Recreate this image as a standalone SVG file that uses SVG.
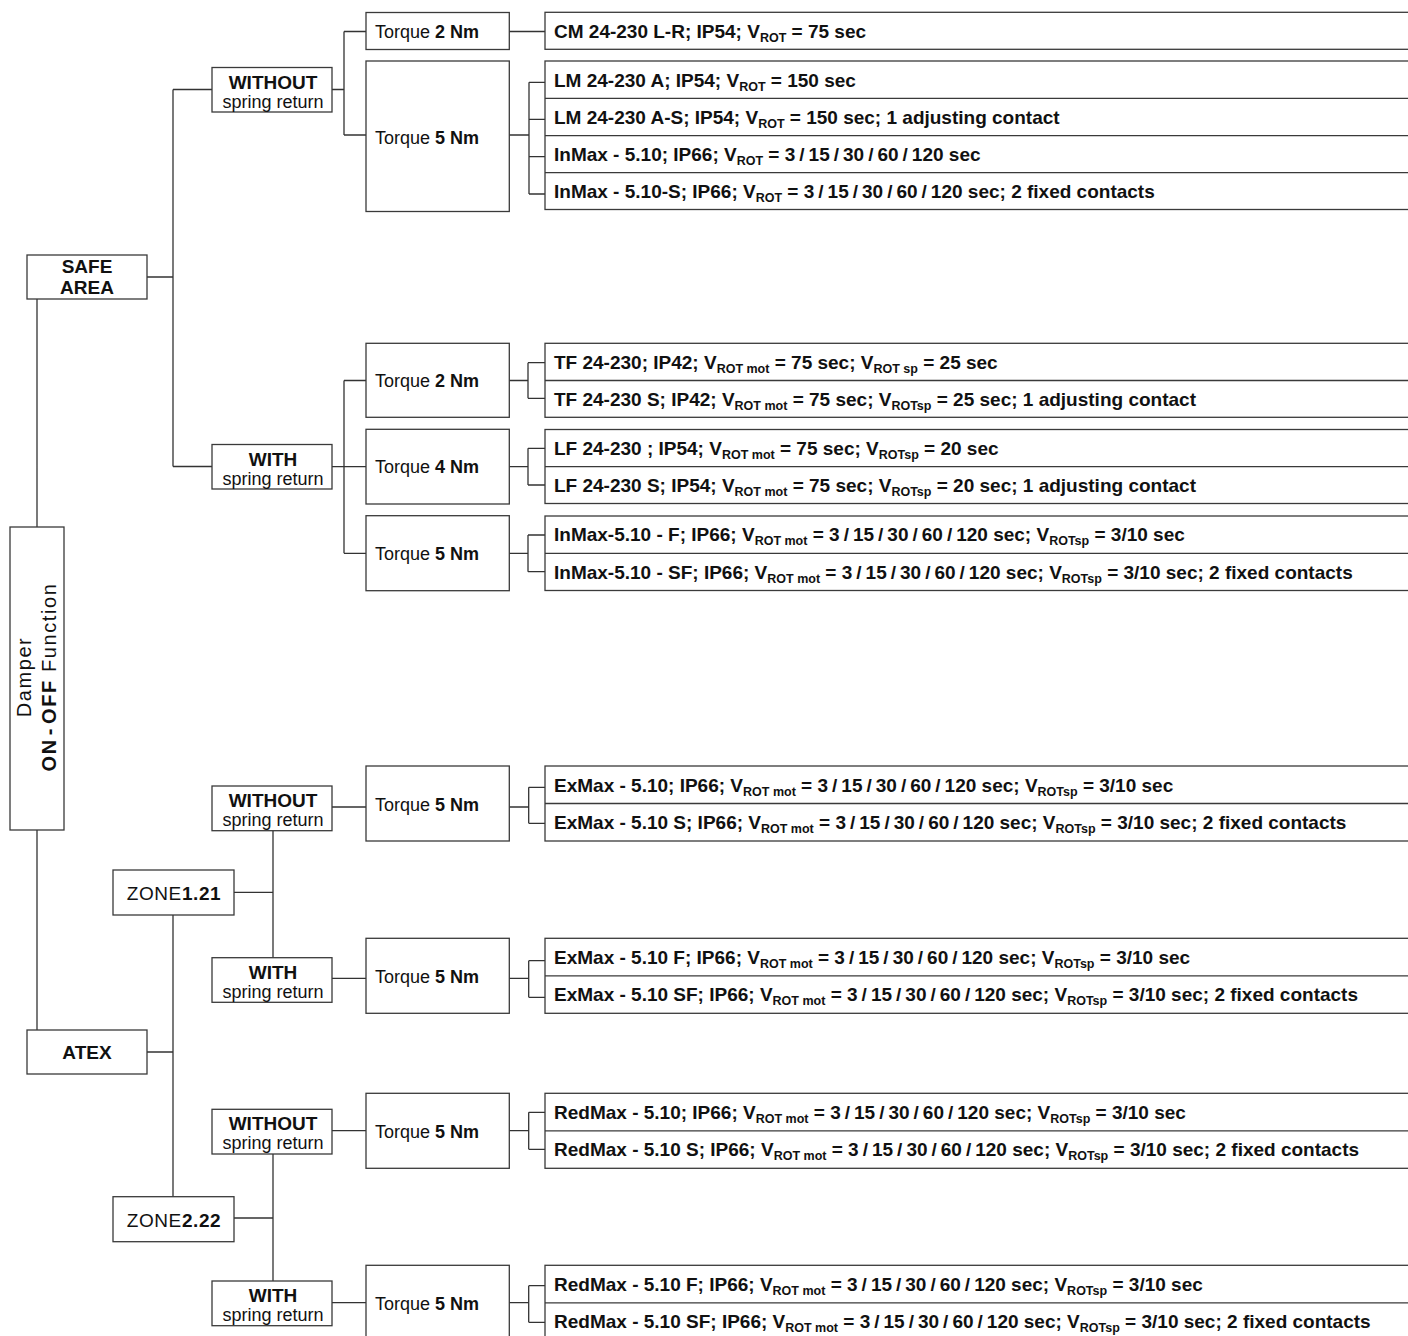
<svg xmlns="http://www.w3.org/2000/svg" width="1408" height="1336" viewBox="0 0 1408 1336">
<style>
.bx{fill:#fff;stroke:#3a3a3a;stroke-width:1.3}
.dv{stroke:#3a3a3a;stroke-width:1.3;fill:none}
.cn{stroke:#333;stroke-width:1.3;fill:none}
text{font-family:"Liberation Sans",Arial,Helvetica,sans-serif;fill:#111}
.p{font-size:19px;font-weight:bold}
.s{font-size:12.5px}
.t{font-size:18px}
.b{font-weight:bold}
.h{font-size:19px;font-weight:bold;text-anchor:middle}
.sr{font-size:18px;text-anchor:middle}
.z{font-size:19px;text-anchor:middle;letter-spacing:0.6px}
.dm{font-size:20px;letter-spacing:1.6px;text-anchor:middle}
</style>
<rect width="1408" height="1336" fill="#fff"/>
<g id="connectors">
<path class="cn" d="M37 299V527M37 830V1030M147 277H173M173 89.5V466.5M173 89.5H212M173 466.5H212
M332 89.5H344M344 31.5V135M344 31.5H366M344 135H366M509 31.5H545M509 135H529M529 82.3V194M529 82.3H545M529 119.3H545M529 156.7H545M529 194H545
M332 466.6H366M344 380.5V553.3M344 380.5H366M344 553.3H366
M509 380.5H528M528 362.7V398.3M528 362.7H545M528 398.3H545
M509 466.7H528M528 448.3V485M528 448.3H545M528 485H545
M509 553.3H528M528 535V571.7M528 535H545M528 571.7H545
M147 1052H173M173 915V1196.7M234 892.3H273M273 830.7V957.7
M332 807H366M509 807H528.7M528.7 787.3V823.3M528.7 787.3H545M528.7 823.3H545
M332 978.3H366M509 978.3H528.7M528.7 960.7V997.3M528.7 960.7H545M528.7 997.3H545
M234 1218H273M273 1154V1281
M332 1130.7H366M509 1130.7H528.7M528.7 1112.3V1149.3M528.7 1112.3H545M528.7 1149.3H545
M332 1302.7H366M509 1302.7H528.7M528.7 1285.7V1322.3M528.7 1285.7H545M528.7 1322.3H545"/>
</g>

<g id="n-damper">
<rect class="bx" x="10" y="527" width="54" height="303"/>
<text class="dm" transform="translate(31,677) rotate(-90)">Damper</text>
<text class="dm" transform="translate(55.5,677) rotate(-90)"><tspan class="b">ON</tspan><tspan class="b" dx="3">-</tspan><tspan class="b" dx="3">OFF</tspan> Function</text>
</g>

<g id="n-safe">
<rect class="bx" x="27" y="255" width="120" height="44"/>
<text class="h" x="87" y="273.3">SAFE</text>
<text class="h" x="87" y="294.3">AREA</text>
</g>

<g id="n-atex">
<rect class="bx" x="27" y="1030" width="120" height="44"/>
<text class="h" x="87" y="1059">ATEX</text>
</g>

<g id="n-zone1">
<rect class="bx" x="113" y="870" width="121" height="45"/>
<text class="z" x="174" y="900">ZONE<tspan class="b">1.21</tspan></text>
</g>
<g id="n-zone2">
<rect class="bx" x="113" y="1196.7" width="121" height="45"/>
<text class="z" x="174" y="1226.7">ZONE<tspan class="b">2.22</tspan></text>
</g>

<g id="n-safe-without">
<rect class="bx" x="212" y="67.5" width="120" height="44.5"/>
<text class="h" x="273" y="88.5">WITHOUT</text>
<text class="sr" x="273" y="107.5">spring return</text>
</g>
<g id="n-safe-with">
<rect class="bx" x="212" y="444.5" width="120" height="44.5"/>
<text class="h" x="273" y="465.5">WITH</text>
<text class="sr" x="273" y="484.5">spring return</text>
</g>
<g id="n-z1-without">
<rect class="bx" x="212" y="786" width="120" height="44.7"/>
<text class="h" x="273" y="807">WITHOUT</text>
<text class="sr" x="273" y="826">spring return</text>
</g>
<g id="n-z1-with">
<rect class="bx" x="212" y="957.7" width="120" height="44.6"/>
<text class="h" x="273" y="978.7">WITH</text>
<text class="sr" x="273" y="997.7">spring return</text>
</g>
<g id="n-z2-without">
<rect class="bx" x="212" y="1109.3" width="120" height="44.7"/>
<text class="h" x="273" y="1130.3">WITHOUT</text>
<text class="sr" x="273" y="1149.3">spring return</text>
</g>
<g id="n-z2-with">
<rect class="bx" x="212" y="1281" width="120" height="44.7"/>
<text class="h" x="273" y="1302">WITH</text>
<text class="sr" x="273" y="1321">spring return</text>
</g>

<g id="n-t-safe-wo-2">
<rect class="bx" x="366" y="12.5" width="143.3" height="37"/>
<text class="t" x="375" y="37.8">Torque <tspan class="b">2 Nm</tspan></text>
</g>
<g id="n-t-safe-wo-5">
<rect class="bx" x="366" y="61" width="143.3" height="150.5"/>
<text class="t" x="375" y="144.3">Torque <tspan class="b">5 Nm</tspan></text>
</g>
<g id="n-t-safe-w-2">
<rect class="bx" x="366" y="343.3" width="143.3" height="74"/>
<text class="t" x="375" y="387">Torque <tspan class="b">2 Nm</tspan></text>
</g>
<g id="n-t-safe-w-4">
<rect class="bx" x="366" y="429.3" width="143.3" height="74.7"/>
<text class="t" x="375" y="473.3">Torque <tspan class="b">4 Nm</tspan></text>
</g>
<g id="n-t-safe-w-5">
<rect class="bx" x="366" y="515.7" width="143.3" height="75"/>
<text class="t" x="375" y="560">Torque <tspan class="b">5 Nm</tspan></text>
</g>
<g id="n-t-z1-wo-5">
<rect class="bx" x="366" y="766" width="143.3" height="75"/>
<text class="t" x="375" y="810.5">Torque <tspan class="b">5 Nm</tspan></text>
</g>
<g id="n-t-z1-w-5">
<rect class="bx" x="366" y="938.3" width="143.3" height="75"/>
<text class="t" x="375" y="982.5">Torque <tspan class="b">5 Nm</tspan></text>
</g>
<g id="n-t-z2-wo-5">
<rect class="bx" x="366" y="1093.3" width="143.3" height="75"/>
<text class="t" x="375" y="1137.5">Torque <tspan class="b">5 Nm</tspan></text>
</g>
<g id="n-t-z2-w-5">
<rect class="bx" x="366" y="1265.3" width="143.3" height="76"/>
<text class="t" x="375" y="1309.8">Torque <tspan class="b">5 Nm</tspan></text>
</g>

<g id="n-p-cm">
<rect class="bx" x="545" y="12.3" width="870" height="37"/>
<text class="p" x="554" y="37.8">CM 24-230 L-R; IP54; V<tspan class="s" dy="4">ROT</tspan><tspan dy="-4"> = 75 sec</tspan></text>
</g>
<g id="n-p-lm-inmax">
<rect class="bx" x="545" y="61" width="870" height="148.5"/>
<path class="dv" d="M545 98.3H1415M545 135.7H1415M545 172.7H1415"/>
<text class="p" x="554" y="86.5">LM 24-230 A; IP54; V<tspan class="s" dy="4">ROT</tspan><tspan dy="-4"> = 150 sec</tspan></text>
<text class="p" x="554" y="123.8">LM 24-230 A-S; IP54; V<tspan class="s" dy="4">ROT</tspan><tspan dy="-4"> = 150 sec; 1 adjusting contact</tspan></text>
<text class="p" x="554" y="161">InMax - 5.10; IP66; V<tspan class="s" dy="4">ROT</tspan><tspan dy="-4"> = </tspan>3<tspan dx="4">/</tspan><tspan dx="4">15</tspan><tspan dx="4">/</tspan><tspan dx="4">30</tspan><tspan dx="4">/</tspan><tspan dx="4">60</tspan><tspan dx="4">/</tspan><tspan dx="4">120</tspan> sec</text>
<text class="p" x="554" y="198">InMax - 5.10-S; IP66; V<tspan class="s" dy="4">ROT</tspan><tspan dy="-4"> = </tspan>3<tspan dx="4">/</tspan><tspan dx="4">15</tspan><tspan dx="4">/</tspan><tspan dx="4">30</tspan><tspan dx="4">/</tspan><tspan dx="4">60</tspan><tspan dx="4">/</tspan><tspan dx="4">120</tspan> sec; 2 fixed contacts</text>
</g>
<g id="n-p-tf">
<rect class="bx" x="545" y="343.3" width="870" height="74"/>
<path class="dv" d="M545 380.5H1415"/>
<text class="p" x="554" y="368.8">TF 24-230; IP42; V<tspan class="s" dy="4">ROT mot</tspan><tspan dy="-4"> = 75 sec; V</tspan><tspan class="s" dy="4">ROT sp</tspan><tspan dy="-4"> = 25 sec</tspan></text>
<text class="p" x="554" y="405.8">TF 24-230 S; IP42; V<tspan class="s" dy="4">ROT mot</tspan><tspan dy="-4"> = 75 sec; V</tspan><tspan class="s" dy="4">ROTsp</tspan><tspan dy="-4"> = 25 sec; 1 adjusting contact</tspan></text>
</g>
<g id="n-p-lf">
<rect class="bx" x="545" y="429.5" width="870" height="74"/>
<path class="dv" d="M545 466.7H1415"/>
<text class="p" x="554" y="454.8">LF 24-230 ; IP54; V<tspan class="s" dy="4">ROT mot</tspan><tspan dy="-4"> = 75 sec; V</tspan><tspan class="s" dy="4">ROTsp</tspan><tspan dy="-4"> = 20 sec</tspan></text>
<text class="p" x="554" y="491.8">LF 24-230 S; IP54; V<tspan class="s" dy="4">ROT mot</tspan><tspan dy="-4"> = 75 sec; V</tspan><tspan class="s" dy="4">ROTsp</tspan><tspan dy="-4"> = 20 sec; 1 adjusting contact</tspan></text>
</g>
<g id="n-p-inmax-f">
<rect class="bx" x="545" y="516" width="870" height="74.5"/>
<path class="dv" d="M545 553.3H1415"/>
<text class="p" x="554" y="541.4">InMax-5.10 - F; IP66; V<tspan class="s" dy="4">ROT mot</tspan><tspan dy="-4"> = </tspan>3<tspan dx="4">/</tspan><tspan dx="4">15</tspan><tspan dx="4">/</tspan><tspan dx="4">30</tspan><tspan dx="4">/</tspan><tspan dx="4">60</tspan><tspan dx="4">/</tspan><tspan dx="4">120</tspan> sec; V<tspan class="s" dy="4">ROTsp</tspan><tspan dy="-4"> = 3/10 sec</tspan></text>
<text class="p" x="554" y="578.8">InMax-5.10 - SF; IP66; V<tspan class="s" dy="4">ROT mot</tspan><tspan dy="-4"> = </tspan>3<tspan dx="4">/</tspan><tspan dx="4">15</tspan><tspan dx="4">/</tspan><tspan dx="4">30</tspan><tspan dx="4">/</tspan><tspan dx="4">60</tspan><tspan dx="4">/</tspan><tspan dx="4">120</tspan> sec; V<tspan class="s" dy="4">ROTsp</tspan><tspan dy="-4"> = 3/10 sec; 2 fixed contacts</tspan></text>
</g>
<g id="n-p-exmax">
<rect class="bx" x="545" y="766" width="870" height="75"/>
<path class="dv" d="M545 803.5H1415"/>
<text class="p" x="554" y="791.6">ExMax - 5.10; IP66; V<tspan class="s" dy="4">ROT mot</tspan><tspan dy="-4"> = </tspan>3<tspan dx="4">/</tspan><tspan dx="4">15</tspan><tspan dx="4">/</tspan><tspan dx="4">30</tspan><tspan dx="4">/</tspan><tspan dx="4">60</tspan><tspan dx="4">/</tspan><tspan dx="4">120</tspan> sec; V<tspan class="s" dy="4">ROTsp</tspan><tspan dy="-4"> = 3/10 sec</tspan></text>
<text class="p" x="554" y="829">ExMax - 5.10 S; IP66; V<tspan class="s" dy="4">ROT mot</tspan><tspan dy="-4"> = </tspan>3<tspan dx="4">/</tspan><tspan dx="4">15</tspan><tspan dx="4">/</tspan><tspan dx="4">30</tspan><tspan dx="4">/</tspan><tspan dx="4">60</tspan><tspan dx="4">/</tspan><tspan dx="4">120</tspan> sec; V<tspan class="s" dy="4">ROTsp</tspan><tspan dy="-4"> = 3/10 sec; 2 fixed contacts</tspan></text>
</g>
<g id="n-p-exmax-f">
<rect class="bx" x="545" y="938.3" width="870" height="75"/>
<path class="dv" d="M545 975.8H1415"/>
<text class="p" x="554" y="963.8">ExMax - 5.10 F; IP66; V<tspan class="s" dy="4">ROT mot</tspan><tspan dy="-4"> = </tspan>3<tspan dx="4">/</tspan><tspan dx="4">15</tspan><tspan dx="4">/</tspan><tspan dx="4">30</tspan><tspan dx="4">/</tspan><tspan dx="4">60</tspan><tspan dx="4">/</tspan><tspan dx="4">120</tspan> sec; V<tspan class="s" dy="4">ROTsp</tspan><tspan dy="-4"> = 3/10 sec</tspan></text>
<text class="p" x="554" y="1001.3">ExMax - 5.10 SF; IP66; V<tspan class="s" dy="4">ROT mot</tspan><tspan dy="-4"> = </tspan>3<tspan dx="4">/</tspan><tspan dx="4">15</tspan><tspan dx="4">/</tspan><tspan dx="4">30</tspan><tspan dx="4">/</tspan><tspan dx="4">60</tspan><tspan dx="4">/</tspan><tspan dx="4">120</tspan> sec; V<tspan class="s" dy="4">ROTsp</tspan><tspan dy="-4"> = 3/10 sec; 2 fixed contacts</tspan></text>
</g>
<g id="n-p-redmax">
<rect class="bx" x="545" y="1093.3" width="870" height="75"/>
<path class="dv" d="M545 1130.8H1415"/>
<text class="p" x="554" y="1118.8">RedMax - 5.10; IP66; V<tspan class="s" dy="4">ROT mot</tspan><tspan dy="-4"> = </tspan>3<tspan dx="4">/</tspan><tspan dx="4">15</tspan><tspan dx="4">/</tspan><tspan dx="4">30</tspan><tspan dx="4">/</tspan><tspan dx="4">60</tspan><tspan dx="4">/</tspan><tspan dx="4">120</tspan> sec; V<tspan class="s" dy="4">ROTsp</tspan><tspan dy="-4"> = 3/10 sec</tspan></text>
<text class="p" x="554" y="1156.3">RedMax - 5.10 S; IP66; V<tspan class="s" dy="4">ROT mot</tspan><tspan dy="-4"> = </tspan>3<tspan dx="4">/</tspan><tspan dx="4">15</tspan><tspan dx="4">/</tspan><tspan dx="4">30</tspan><tspan dx="4">/</tspan><tspan dx="4">60</tspan><tspan dx="4">/</tspan><tspan dx="4">120</tspan> sec; V<tspan class="s" dy="4">ROTsp</tspan><tspan dy="-4"> = 3/10 sec; 2 fixed contacts</tspan></text>
</g>
<g id="n-p-redmax-f">
<rect class="bx" x="545" y="1265.3" width="870" height="76"/>
<path class="dv" d="M545 1302.8H1415"/>
<text class="p" x="554" y="1290.8">RedMax - 5.10 F; IP66; V<tspan class="s" dy="4">ROT mot</tspan><tspan dy="-4"> = </tspan>3<tspan dx="4">/</tspan><tspan dx="4">15</tspan><tspan dx="4">/</tspan><tspan dx="4">30</tspan><tspan dx="4">/</tspan><tspan dx="4">60</tspan><tspan dx="4">/</tspan><tspan dx="4">120</tspan> sec; V<tspan class="s" dy="4">ROTsp</tspan><tspan dy="-4"> = 3/10 sec</tspan></text>
<text class="p" x="554" y="1328.3">RedMax - 5.10 SF; IP66; V<tspan class="s" dy="4">ROT mot</tspan><tspan dy="-4"> = </tspan>3<tspan dx="4">/</tspan><tspan dx="4">15</tspan><tspan dx="4">/</tspan><tspan dx="4">30</tspan><tspan dx="4">/</tspan><tspan dx="4">60</tspan><tspan dx="4">/</tspan><tspan dx="4">120</tspan> sec; V<tspan class="s" dy="4">ROTsp</tspan><tspan dy="-4"> = 3/10 sec; 2 fixed contacts</tspan></text>
</g>
</svg>
